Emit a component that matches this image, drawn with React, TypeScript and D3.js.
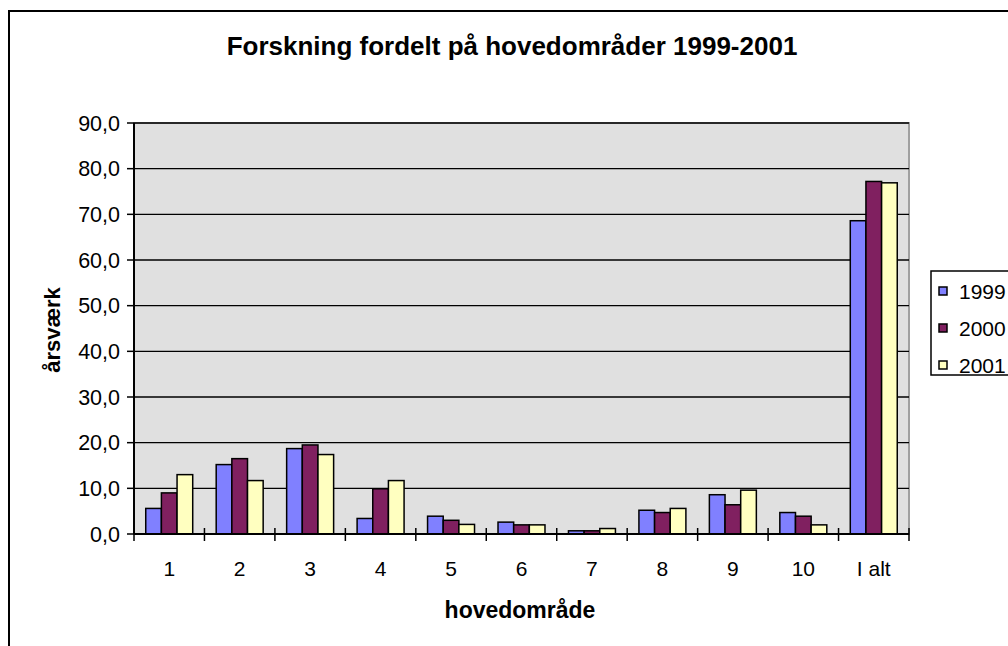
import React from "react";
import * as d3 from "d3";

const categories = ["1", "2", "3", "4", "5", "6", "7", "8", "9", "10", "I alt"];
const seriesNames = ["1999", "2000", "2001"];
const values1999 = [5.6, 15.2, 18.7, 3.4, 3.9, 2.6, 0.7, 5.2, 8.6, 4.7, 68.6];
const values2000 = [9.0, 16.5, 19.5, 9.9, 3.0, 2.0, 0.7, 4.7, 6.4, 3.9, 77.2];
const values2001 = [13.0, 11.7, 17.4, 11.7, 2.1, 2.0, 1.2, 5.6, 9.6, 2.0, 76.9];
const yTicks = [0, 10, 20, 30, 40, 50, 60, 70, 80, 90];
const colors = ["#8080FF", "#802060", "#FFFFC0"];

const W = 1008;
const H = 646;
const plot = { left: 134, right: 909, top: 123, bottom: 534 };
const FONT = "Liberation Sans, Arial, sans-serif";

export default function App() {
  const allSeries = [values1999, values2000, values2001];
  const x = d3.scaleBand<string>().domain(categories).range([plot.left, plot.right]).padding(0);
  const band = x.bandwidth();
  const bw = band / 4.5;
  const xs = d3
    .scaleBand<string>()
    .domain(seriesNames)
    .range([0.75 * bw, band - 0.75 * bw])
    .padding(0);
  const y = d3.scaleLinear().domain([0, 90]).range([plot.bottom, plot.top]);
  const fmt = (v: number) => d3.format(".1f")(v).replace(".", ",");
  const tickPositions = d3.range(categories.length + 1).map((i) => plot.left + i * band);

  return (
    <svg
      width={W}
      height={H}
      style={{ position: "absolute", left: 0, top: 0, background: "#fff" }}
      fontFamily={FONT}
    >
      <rect x={9} y={11} width={1010} height={660} fill="#fff" stroke="#000" strokeWidth={2} />
      <text x={512} y={55} textAnchor="middle" fontSize={26} fontWeight="bold">
        Forskning fordelt på hovedområder 1999-2001
      </text>
      <rect
        x={plot.left}
        y={plot.top}
        width={plot.right - plot.left}
        height={plot.bottom - plot.top}
        fill="#E0E0E0"
        stroke="#A0A0A0"
        strokeWidth={2}
      />
      {yTicks.map((t) => (
        <g key={t}>
          {t > 0 && (
            <line x1={plot.left} x2={plot.right} y1={y(t)} y2={y(t)} stroke="#000" strokeWidth={1.4} />
          )}
          <line x1={plot.left - 7} x2={plot.left} y1={y(t)} y2={y(t)} stroke="#000" strokeWidth={1.5} />
          <text x={120} y={y(t)} dy="0.36em" textAnchor="end" fontSize={21.5}>
            {fmt(t)}
          </text>
        </g>
      ))}
      {categories.map((c, i) => (
        <g key={c}>
          {allSeries.map((s, j) => (
            <rect
              key={j}
              x={(x(c) as number) + (xs(seriesNames[j]) as number)}
              y={y(s[i])}
              width={xs.bandwidth()}
              height={plot.bottom - y(s[i])}
              fill={colors[j]}
              stroke="#000"
              strokeWidth={1.5}
            />
          ))}
          <text x={(x(c) as number) + band / 2} y={576} textAnchor="middle" fontSize={21}>
            {c}
          </text>
        </g>
      ))}
      <line x1={plot.left} x2={plot.left} y1={plot.top} y2={plot.bottom} stroke="#000" strokeWidth={2} />
      <line x1={plot.left} x2={plot.right} y1={plot.bottom} y2={plot.bottom} stroke="#000" strokeWidth={2} />
      {tickPositions.map((p, i) => (
        <line key={i} x1={p} x2={p} y1={plot.bottom - 6} y2={plot.bottom + 7} stroke="#000" strokeWidth={1.5} />
      ))}
      <text x={520} y={618} textAnchor="middle" fontSize={23} fontWeight="bold">
        hovedområde
      </text>
      <text
        transform={`translate(60, 330) rotate(-90)`}
        textAnchor="middle"
        fontSize={22}
        fontWeight="bold"
      >
        årsværk
      </text>
      <rect x={931} y={271} width={100} height={104} fill="#fff" stroke="#000" strokeWidth={1.5} />
      {seriesNames.map((n, j) => (
        <g key={n}>
          <rect x={939} y={287 + j * 37} width={8} height={8} fill={colors[j]} stroke="#000" strokeWidth={1.5} />
          <text x={959} y={291 + j * 37} dy="0.36em" fontSize={21}>
            {n}
          </text>
        </g>
      ))}
    </svg>
  );
}
